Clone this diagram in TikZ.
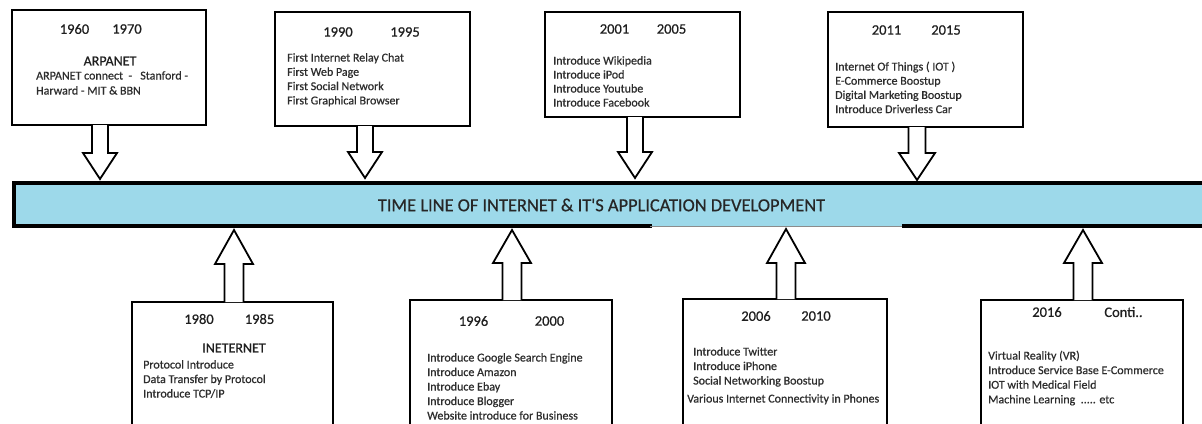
\documentclass[tikz,border=0pt]{standalone}
\usepackage{fontspec}
\setmainfont{Carlito}[FakeBold=0.6]
\newfontfamily\titlefont{Carlito}[FakeBold=0.6]
\usetikzlibrary{calc}
\definecolor{barblue}{RGB}{157,217,234}
\definecolor{itemgrey}{RGB}{45,45,45}
\tikzset{
  box/.style={draw=black, line width=2.2pt, fill=white, outer sep=0pt, inner sep=0pt, anchor=north west},
  yeartxt/.style={font=\fontsize{14.5}{17}\selectfont, text=black!88, inner sep=0pt},
  headtxt/.style={font=\fontsize{14}{17}\selectfont, text=black!88, inner sep=0pt},
  item/.style={font=\fontsize{12}{14.3}\selectfont, text=itemgrey, inner sep=0pt, anchor=base west},
  barrow/.style={draw=black, line width=1.8pt, fill=white, line join=miter},
  barline/.style={line width=3.5pt, black},
  titletxt/.style={font=\titlefont\fontsize{18.4}{22}\selectfont, text=black!85, inner sep=0pt}
}
% #1 start (on box), #2 tip, #3 shaft half, #4 head half, #5 head length
\newcommand\blockarr[5]{%
  \path ($(#2)!#5!(#1)$) coordinate (hb);
  \draw[barrow] ($(#1)+(-#3,0)$) -- ($(hb)+(-#3,0)$) -- ($(hb)+(-#4,0)$) -- (#2)
     -- ($(hb)+(#4,0)$) -- ($(hb)+(#3,0)$) -- ($(#1)+(#3,0)$);
}
\begin{document}
\begin{tikzpicture}[x=1pt,y=-1pt]
\useasboundingbox (0,0) rectangle (1202,423);
\clip (0,0) rectangle (1202,423);
\fill[white] (0,0) rectangle (1202,423);

% ---- timeline bar ----
\node[fill=barblue, draw=none, inner sep=0pt, outer sep=0pt, minimum width=1201pt, minimum height=43pt, anchor=north west] (bar) at (14,183) {};
\draw[barline, line cap=rect] (bar.south west) -- (bar.north west) -- (bar.north east);
\coordinate (g1) at (650,0);
\coordinate (g2) at (902,0);
\draw[barline, line cap=rect] (bar.south west) -- (bar.south west -| g1);
\draw[barline] (bar.south east -| g2) -- (bar.south east);
\draw[line width=0.8pt, black!45] (bar.south west -| g1) -- (bar.south west -| g2);
\node[titletxt] (title) at (601.5,205) {TIME LINE OF INTERNET \& IT'S APPLICATION DEVELOPMENT};

% ---- top boxes ----
\node[box, minimum width=194pt, minimum height=115pt] (b1) at (12,10) {};
\node[box, minimum width=195pt, minimum height=114pt] (b2) at (275,12) {};
\node[box, minimum width=195pt, minimum height=105pt] (b3) at (545,12) {};
\node[box, minimum width=195pt, minimum height=115pt] (b4) at (828,12) {};

% ---- bottom boxes ----
\node[box, minimum width=201pt, minimum height=140pt] (b5) at (132,302) {};
\node[box, minimum width=202pt, minimum height=140pt] (b6) at (410,300) {};
\node[box, minimum width=204pt, minimum height=141pt] (b7) at (683,299) {};
\node[box, minimum width=202pt, minimum height=140pt] (b8) at (981,300) {};

% ---- arrows ----
\coordinate (t1) at (100,179);
\coordinate (t2) at (365,178);
\coordinate (t3) at (635,178);
\coordinate (t4) at (917,180);
\coordinate (t5) at (234,230);
\coordinate (t6) at (512,230);
\coordinate (t7) at (786,229);
\coordinate (t8) at (1083,230);
\blockarr{b1.south -| t1}{t1}{8}{17}{26pt}
\blockarr{b2.south -| t2}{t2}{8}{17}{26pt}
\blockarr{b3.south -| t3}{t3}{8}{17}{26pt}
\blockarr{b4.south -| t4}{t4}{8.5}{18}{27pt}
\blockarr{b5.north -| t5}{t5}{9.5}{19}{34pt}
\blockarr{b6.north -| t6}{t6}{9.5}{19}{33pt}
\blockarr{b7.north -| t7}{t7}{9.5}{19}{34pt}
\blockarr{b8.north -| t8}{t8}{9.5}{19}{33pt}

% ---- box 1 text ----
\node[yeartxt] (y1a) at (74.5,29) {1960};
\node[yeartxt] (y1b) at (127,29) {1970};
\node[headtxt] (h1) at (110,61) {ARPANET};
\node[item] (b1l1) at (36,79.5) {ARPANET connect\ \ -\ \ \ Stanford -};
\node[item] (b1l2) at (36,94.5) {Harward - MIT \& BBN};

% ---- box 2 text ----
\node[yeartxt] (y2a) at (338,32) {1990};
\node[yeartxt] (y2b) at (405,32) {1995};
\foreach \t [count=\i] in {First Internet Relay Chat, First Web Page, First Social Network, First Graphical Browser}
  \node[item] (b2l\i) at (287,{61.5+14.3*(\i-1)}) {\t};

% ---- box 3 text ----
\node[yeartxt] (y3a) at (614.5,29) {2001};
\node[yeartxt] (y3b) at (671.5,29) {2005};
\foreach \t [count=\i] in {Introduce Wikipedia, Introduce iPod, Introduce Youtube, Introduce Facebook}
  \node[item] (b3l\i) at (553,{64.5+14*(\i-1)}) {\t};

% ---- box 4 text ----
\node[yeartxt] (y4a) at (886.5,30) {2011};
\node[yeartxt] (y4b) at (946,30) {2015};
\foreach \t [count=\i] in {Internet Of Things ( IOT ), E-Commerce Boostup, Digital Marketing Boostup, Introduce Driverless Car}
  \node[item] (b4l\i) at (835,{70.5+14.2*(\i-1)}) {\t};

% ---- box 5 text ----
\node[yeartxt] (y5a) at (199,319) {1980};
\node[yeartxt] (y5b) at (259.5,319) {1985};
\node[headtxt] (h5) at (234,348) {INETERNET};
\foreach \t [count=\i] in {Protocol Introduce, Data Transfer by Protocol, Introduce TCP/IP}
  \node[item] (b5l\i) at (143,{368.5+14.5*(\i-1)}) {\t};

% ---- box 6 text ----
\node[yeartxt] (y6a) at (473.5,321) {1996};
\node[yeartxt] (y6b) at (549.5,321) {2000};
\foreach \t [count=\i] in {Introduce Google Search Engine, Introduce Amazon, Introduce Ebay, Introduce Blogger, Website introduce for Business}
  \node[item] (b6l\i) at (427,{361.5+14.5*(\i-1)}) {\t};

% ---- box 7 text ----
\node[yeartxt] (y7a) at (756,316) {2006};
\node[yeartxt] (y7b) at (816,316) {2010};
\foreach \t [count=\i] in {Introduce Twitter, Introduce iPhone, Social Networking Boostup}
  \node[item] (b7l\i) at (693,{355.5+14.5*(\i-1)}) {\t};
\node[item] (b7l4) at (687,402.5) {Various Internet Connectivity in Phones};

% ---- box 8 text ----
\node[yeartxt] (y8a) at (1047,312) {2016};
\node[yeartxt] (y8b) at (1123.5,312) {Conti..};
\node[item] (b8l1) at (988,359.5) {Virtual Reality (VR)};
\node[item] (b8l2) at (988,374.1) {Introduce Service Base E-Commerce};
\node[item] (b8l3) at (988,388.7) {IOT with Medical Field};
\node[item] (b8l4) at (988,403.3) {Machine Learning\ \ ..... etc};
\end{tikzpicture}
\end{document}
